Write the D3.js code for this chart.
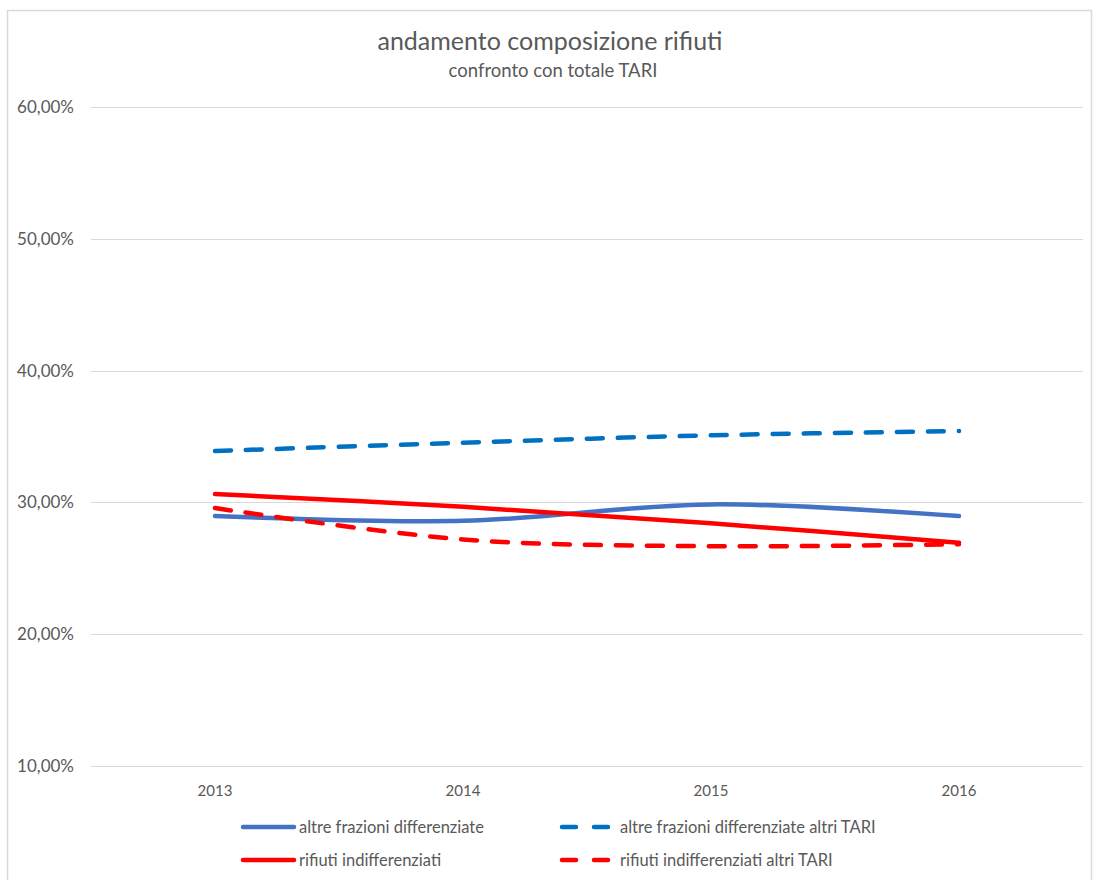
<!DOCTYPE html>
<html><head><meta charset="utf-8">
<script src="https://cdn.jsdelivr.net/npm/d3@7"></script>
<style>body{margin:0;background:#fff;} text{font-family:Lato,"Open Sans",sans-serif;}</style>
</head><body>
<svg id="c" width="1093" height="880"></svg>
<script>
const years = ["2013","2014","2015","2016"];
const altreFrazioni = [28.96, 28.60, 29.85, 28.96];
const altreFrazioniTARI = [33.90, 34.53, 35.09, 35.42];
const rifiutiIndiff = [30.63, 29.67, 28.41, 26.93];
const rifiutiIndiffTARI = [29.57, 27.19, 26.68, 26.83];
const yTicks = [10, 20, 30, 40, 50, 60];

const series = [
  {name:"altre frazioni differenziate", values: altreFrazioni, color:"#4472C4", dash:null},
  {name:"altre frazioni differenziate altri TARI", values: altreFrazioniTARI, color:"#0070C0", dash:"16,15"},
  {name:"rifiuti indifferenziati", values: rifiutiIndiff, color:"#FF0000", dash:null},
  {name:"rifiuti indifferenziati altri TARI", values: rifiutiIndiffTARI, color:"#FF0000", dash:"16,15"}
];

const svg = d3.select("#c");
svg.append("rect").attr("x",7.5).attr("y",10.5).attr("width",1084).attr("height",900)
  .attr("fill","none").attr("stroke","#d9d9d9").attr("stroke-width",1.5);

const x = d3.scaleBand().domain(years).range([91,1083]);
const y = d3.scaleLinear().domain([10,60]).range([766,107]);

svg.append("g").selectAll("line").data(yTicks).join("line")
  .attr("x1",91).attr("x2",1083).attr("y1",d=>Math.round(y(d))+0.5).attr("y2",d=>Math.round(y(d))+0.5)
  .attr("stroke","#d9d9d9").attr("stroke-width",1);

const fmt = d => d.toFixed(2).replace(".",",")+"%";
svg.append("g").selectAll("text").data(yTicks).join("text")
  .attr("x",74).attr("y",d=>y(d)).attr("dy","0.35em").attr("text-anchor","end")
  .attr("font-size",17).attr("fill","#595959").text(fmt);

svg.append("g").selectAll("text").data(years).join("text")
  .attr("x",d=>x(d)+x.bandwidth()/2).attr("y",796).attr("text-anchor","middle")
  .attr("font-size",15).attr("fill","#595959").text(d=>d);

const line = d3.line().x((d,i)=>x(years[i])+x.bandwidth()/2).y(d=>y(d)).curve(d3.curveCatmullRom.alpha(0.5));
svg.append("g").selectAll("path").data(series).join("path")
  .attr("d",d=>line(d.values)).attr("fill","none").attr("stroke",d=>d.color)
  .attr("stroke-width",4.5).attr("stroke-dasharray",d=>d.dash).attr("stroke-linecap","round");

svg.append("text").attr("x",550).attr("y",50).attr("text-anchor","middle")
  .attr("font-size",25).attr("fill","#595959").text("andamento composizione rifiuti");
svg.append("text").attr("x",553).attr("y",77).attr("text-anchor","middle")
  .attr("font-size",18.5).attr("fill","#595959").text("confronto con totale TARI");

const legPos = [[243,827],[562,827],[243,860],[562,860]];
const lg = svg.append("g").selectAll("g").data(series).join("g")
  .attr("transform",(d,i)=>`translate(${legPos[i][0]},${legPos[i][1]})`);
lg.append("line").attr("x1",0).attr("x2",d=>d.dash?49:51).attr("y1",0).attr("y2",0)
  .attr("stroke",d=>d.color).attr("stroke-width",4.5).attr("stroke-linecap","round")
  .attr("stroke-dasharray",d=>d.dash?"14,18":null);
lg.append("text").attr("x",d=>d.dash?58:56).attr("y",0).attr("dy","0.35em")
  .attr("font-size",16.5).attr("fill","#595959").text(d=>d.name);
</script>
</body></html>
